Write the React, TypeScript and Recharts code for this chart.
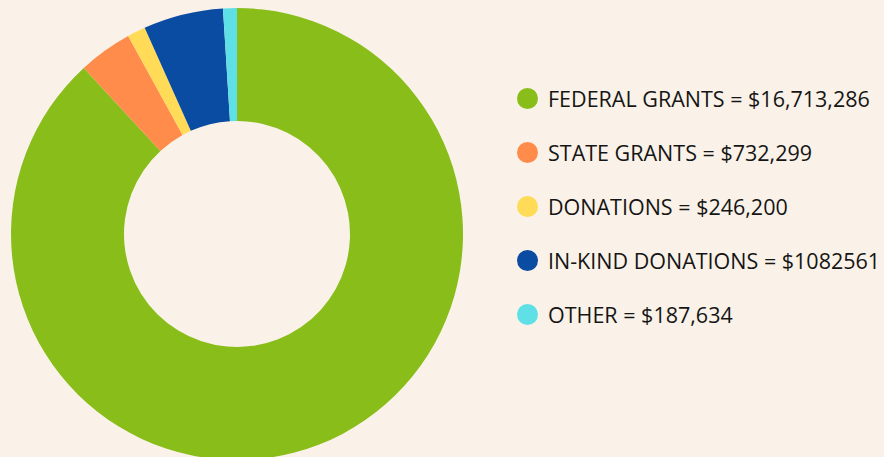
import { PieChart, Pie, Cell } from "recharts";

const categories = ["FEDERAL GRANTS", "STATE GRANTS", "DONATIONS", "IN-KIND DONATIONS", "OTHER"];
const amounts = [16713286, 732299, 246200, 1082561, 187634];
const amountLabels = ["$16,713,286", "$732,299", "$246,200", "$1082561", "$187,634"];
const colors = ["#88bd1a", "#ff8c4b", "#ffdb58", "#0a4ca2", "#5ee0e6"];

const data = categories.map((name, i) => ({ name, value: amounts[i] }));

const LegendList = () => (
  <div
    style={{
      position: "absolute",
      left: 517,
      top: 72,
      fontFamily: "'Open Sans', sans-serif",
      fontSize: 21.5,
      color: "#151515",
    }}
  >
    {categories.map((name, i) => (
      <div key={name} style={{ display: "flex", alignItems: "center", height: 53.8 }}>
        <span
          style={{
            width: 21,
            height: 21,
            borderRadius: "50%",
            backgroundColor: colors[i],
            marginRight: 10,
            flexShrink: 0,
          }}
        />
        <span style={{ whiteSpace: "nowrap" }}>
          {name} = {amountLabels[i]}
        </span>
      </div>
    ))}
  </div>
);

export default function App() {
  return (
    <div style={{ position: "absolute", left: 0, top: 0, width: 884, height: 457, background: "#faf2e8", overflow: "hidden" }}>
      <PieChart width={884} height={457} margin={{ top: 0, right: 0, bottom: 0, left: 0 }}>
        <Pie
          data={data}
          dataKey="value"
          nameKey="name"
          cx={237}
          cy={234}
          innerRadius={113}
          outerRadius={226}
          startAngle={90}
          endAngle={-270}
          stroke="none"
          isAnimationActive={false}
        >
          {data.map((d, i) => (
            <Cell key={d.name} fill={colors[i]} />
          ))}
        </Pie>
      </PieChart>
      <LegendList />
    </div>
  );
}
